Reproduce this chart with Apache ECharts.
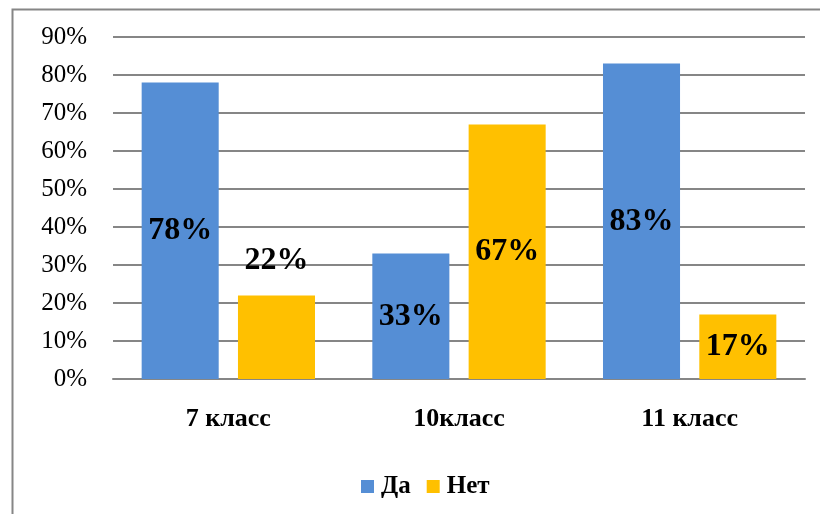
<!DOCTYPE html>
<html>
<head>
<meta charset="utf-8">
<script src="https://cdn.jsdelivr.net/npm/echarts@6/dist/echarts.min.js"></script>
<style>
  html, body { margin: 0; padding: 0; background: #fff; }
  #chart { width: 820px; height: 514px; }
</style>
</head>
<body>
<div id="chart"></div>
<script>
// data
var categories = ['7 класс', '10класс', '11 класс'];
var yesValues = [78, 33, 83];
var noValues = [22, 67, 17];
var seriesNames = ['Да', 'Нет'];
// label on top only where the bar is too short for it
var noLabelPos = ['top', 'inside', 'inside'];

var font = '"Liberation Serif", "Times New Roman", serif';
var chart = echarts.init(document.getElementById('chart'), null, {renderer: 'canvas'});

var labelStyle = {
    show: true,
    position: 'inside',
    distance: 19,
    fontFamily: font,
    fontWeight: 'bold',
    fontSize: 32,
    color: '#000',
    formatter: '{c}%'
};

var option = {
    animation: false,
    textStyle: { fontFamily: font },
    graphic: [{
        type: 'rect',
        left: 10, top: 7,
        shape: { width: 840, height: 540 },
        style: { fill: 'none', stroke: '#868686', lineWidth: 2 },
        z: -1
    }],
    grid: { left: 113, right: 15, top: 37, bottom: 135 },
    legend: {
        data: seriesNames,
        top: 469,
        left: 356,
        itemWidth: 13,
        itemHeight: 13,
        itemGap: 16,
        icon: 'rect',
        textStyle: { fontFamily: font, fontWeight: 'bold', fontSize: 25, color: '#000', padding: [0, 0, 0, 2] }
    },
    xAxis: {
        type: 'category',
        data: categories,
        axisTick: { show: false },
        axisLine: { lineStyle: { color: '#868686', width: 2 } },
        axisLabel: { margin: 27, fontFamily: font, fontWeight: 'bold', fontSize: 26, color: '#000' }
    },
    yAxis: {
        type: 'value',
        min: 0, max: 90, interval: 10,
        axisLine: { show: false },
        axisTick: { show: false },
        splitLine: { lineStyle: { color: '#868686', width: 2 } },
        axisLabel: { margin: 26, fontFamily: font, fontSize: 25, color: '#000', formatter: '{value}%' }
    },
    series: [
        {
            name: seriesNames[0],
            type: 'bar',
            data: yesValues,
            barWidth: '33.4%',
            barGap: '25%',
            itemStyle: { color: '#558ED5' },
            label: labelStyle
        },
        {
            name: seriesNames[1],
            type: 'bar',
            data: noValues.map(function (v, i) {
                return { value: v, label: { position: noLabelPos[i] } };
            }),
            barWidth: '33.4%',
            itemStyle: { color: '#FFC000' },
            label: labelStyle
        }
    ]
};
chart.setOption(option);
</script>
</body>
</html>
